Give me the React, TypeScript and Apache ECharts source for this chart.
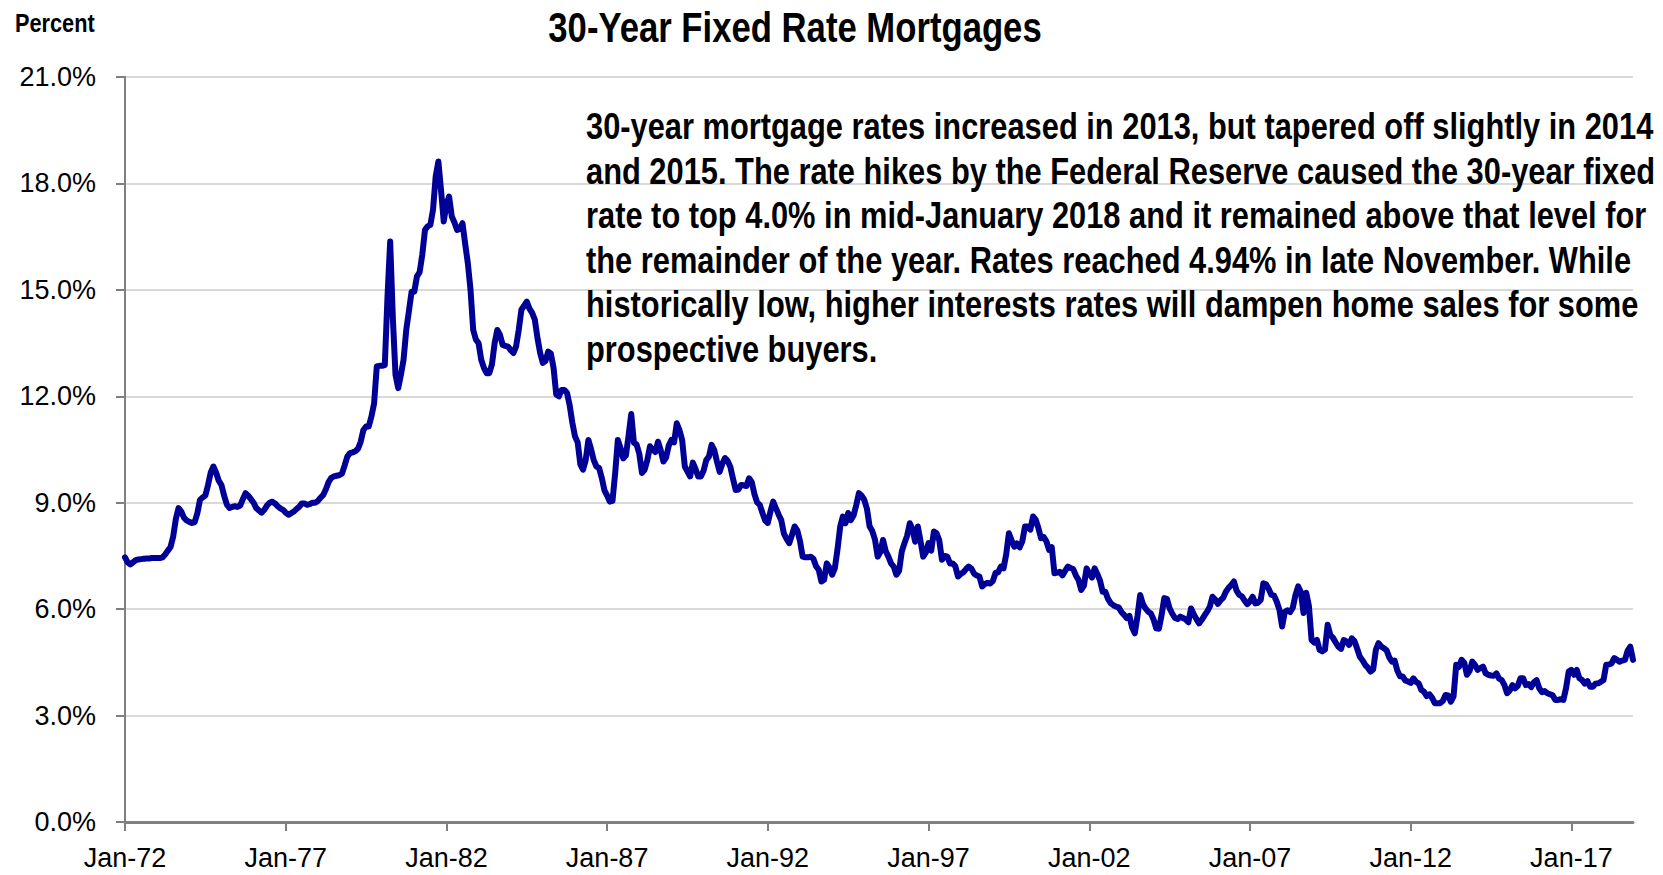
import React, { useEffect, useRef } from "react";
import * as echarts from "echarts";

const SANS = "'Liberation Sans', Arial, sans-serif";
const NARROW_SCALE = 0.82;

const monthNames = ["Jan", "Feb", "Mar", "Apr", "May", "Jun", "Jul", "Aug", "Sep", "Oct", "Nov", "Dec"];
const firstYear = 1972;
const lastYear = 2018;

const chartTitle = "30-Year Fixed Rate Mortgages";
const unitLabel = "Percent";
const noteLines = [
  "30-year mortgage rates increased in 2013, but tapered off slightly in 2014",
  "and 2015. The rate hikes by the Federal Reserve caused the 30-year fixed",
  "rate to top 4.0% in mid-January 2018 and it remained above that level for",
  "the remainder of the year. Rates reached 4.94% in late November. While",
  "historically low, higher interests rates will dampen home sales for some",
  "prospective buyers.",
];

// Monthly 30-year fixed rates (percent), Jan-72 .. Dec-79
const rates1970s = [
  7.46, 7.32, 7.26, 7.32, 7.38, 7.40, 7.41, 7.42, 7.43, 7.43, 7.44, 7.44,
  7.44, 7.44, 7.46, 7.54, 7.65, 7.75, 8.05, 8.55, 8.85, 8.75, 8.58, 8.50,
  8.46, 8.43, 8.45, 8.70, 9.08, 9.15, 9.20, 9.50, 9.85, 10.02, 9.85, 9.62,
  9.50, 9.20, 8.95, 8.85, 8.88, 8.90, 8.88, 8.92, 9.10, 9.27, 9.20, 9.10,
  9.00, 8.85, 8.78, 8.72, 8.80, 8.92, 9.00, 9.03, 8.98, 8.90, 8.84, 8.80,
  8.72, 8.66, 8.70, 8.75, 8.82, 8.88, 8.98, 8.98, 8.94, 8.96, 9.00, 9.00,
  9.05, 9.14, 9.22, 9.38, 9.58, 9.70, 9.74, 9.76, 9.78, 9.82, 10.05, 10.30,
  10.40, 10.42, 10.45, 10.52, 10.72, 11.05, 11.15, 11.15, 11.43, 11.80, 12.84, 12.86,
];

// Jan-80 .. Dec-89
const rates1980s = [
  12.86, 12.88, 14.80, 16.36, 14.20, 12.60, 12.23, 12.60, 13.03, 13.87, 14.40, 14.95,
  14.95, 15.38, 15.50, 16.00, 16.69, 16.79, 16.83, 17.26, 18.20, 18.62, 17.80, 16.93,
  17.40, 17.63, 17.07, 16.90, 16.69, 16.72, 16.88, 16.30, 15.75, 15.00, 13.87, 13.60,
  13.50, 13.03, 12.80, 12.65, 12.65, 12.90, 13.50, 13.87, 13.73, 13.45, 13.42, 13.40,
  13.30, 13.22, 13.40, 13.87, 14.44, 14.55, 14.67, 14.47, 14.35, 14.16, 13.64, 13.22,
  12.94, 13.00, 13.26, 13.20, 12.80, 12.05, 12.00, 12.18, 12.18, 12.10, 11.75, 11.26,
  10.87, 10.70, 10.08, 9.93, 10.20, 10.77, 10.51, 10.20, 10.02, 9.98, 9.70, 9.35,
  9.20, 9.03, 9.05, 9.83, 10.77, 10.54, 10.25, 10.33, 10.89, 11.50, 10.69, 10.64,
  10.38, 9.84, 9.93, 10.20, 10.59, 10.50, 10.43, 10.72, 10.48, 10.16, 10.27, 10.61,
  10.77, 10.70, 11.24, 11.05, 10.77, 10.02, 9.88, 9.74, 10.13, 9.95, 9.74, 9.74,
];

// Jan-90 .. Dec-99
const rates1990s = [
  9.90, 10.20, 10.30, 10.63, 10.48, 10.16, 9.87, 10.10, 10.26, 10.18, 10.01, 9.67,
  9.36, 9.37, 9.50, 9.49, 9.47, 9.69, 9.58, 9.24, 9.01, 8.94, 8.71, 8.50,
  8.43, 8.76, 9.03, 8.85, 8.67, 8.51, 8.13, 7.98, 7.86, 8.09, 8.33, 8.22,
  7.92, 7.48, 7.46, 7.46, 7.48, 7.42, 7.21, 7.11, 6.78, 6.83, 7.29, 7.17,
  6.97, 7.15, 7.68, 8.32, 8.61, 8.42, 8.71, 8.51, 8.64, 8.93, 9.27, 9.20,
  9.08, 8.83, 8.33, 8.20, 7.96, 7.48, 7.61, 7.95, 7.64, 7.48, 7.29, 7.20,
  6.97, 7.08, 7.62, 7.86, 8.07, 8.42, 8.25, 7.90, 8.33, 7.92, 7.48, 7.60,
  7.86, 7.65, 8.19, 8.14, 7.94, 7.39, 7.50, 7.48, 7.29, 7.29, 7.21, 6.92,
  6.99, 7.04, 7.13, 7.20, 7.14, 7.00, 6.95, 6.92, 6.64, 6.71, 6.74, 6.72,
  6.79, 7.02, 7.04, 7.20, 7.15, 7.55, 8.14, 7.94, 7.76, 7.85, 7.74, 7.91,
];

// Jan-00 .. Dec-09
const rates2000s = [
  8.33, 8.33, 8.24, 8.61, 8.52, 8.29, 8.00, 8.03, 7.91, 7.67, 7.75, 7.01,
  7.03, 7.05, 6.95, 7.08, 7.20, 7.16, 7.13, 6.95, 6.82, 6.54, 6.66, 7.15,
  7.00, 6.89, 7.15, 6.99, 6.81, 6.49, 6.49, 6.29, 6.17, 6.11, 6.07, 6.05,
  5.92, 5.84, 5.75, 5.81, 5.48, 5.32, 5.80, 6.40, 6.15, 6.02, 5.93, 5.88,
  5.71, 5.46, 5.45, 5.83, 6.31, 6.29, 6.02, 5.87, 5.75, 5.72, 5.79, 5.75,
  5.71, 5.63, 6.02, 5.86, 5.72, 5.60, 5.70, 5.82, 5.93, 6.07, 6.35, 6.27,
  6.15, 6.25, 6.32, 6.49, 6.60, 6.68, 6.78, 6.52, 6.40, 6.36, 6.24, 6.14,
  6.22, 6.35, 6.16, 6.18, 6.26, 6.73, 6.70, 6.57, 6.40, 6.38, 6.21, 5.98,
  5.51, 5.92, 5.97, 5.92, 6.04, 6.40, 6.64, 6.48, 5.89, 6.46, 6.09, 5.13,
  5.06, 5.13, 4.85, 4.81, 4.86, 5.56, 5.27, 5.19, 5.06, 4.94, 4.88, 5.13,
];

// Jan-10 .. Dec-18
const rates2010s = [
  5.09, 4.99, 5.18, 5.10, 4.89, 4.66, 4.56, 4.43, 4.35, 4.24, 4.30, 4.85,
  5.04, 4.95, 4.90, 4.84, 4.64, 4.52, 4.55, 4.27, 4.11, 4.10, 3.99, 3.96,
  3.92, 4.05, 3.95, 3.91, 3.72, 3.67, 3.55, 3.60, 3.50, 3.35, 3.35, 3.35,
  3.41, 3.58, 3.57, 3.39, 3.54, 4.43, 4.37, 4.57, 4.49, 4.15, 4.26, 4.52,
  4.43, 4.29, 4.34, 4.38, 4.19, 4.15, 4.13, 4.12, 4.19, 4.04, 4.00, 3.86,
  3.63, 3.71, 3.86, 3.77, 3.84, 4.05, 4.05, 3.86, 3.89, 3.80, 3.94, 4.00,
  3.77, 3.66, 3.69, 3.63, 3.60, 3.57, 3.44, 3.44, 3.46, 3.44, 3.77, 4.24,
  4.29, 4.15, 4.29, 4.05, 4.00, 3.90, 3.97, 3.81, 3.81, 3.90, 3.91, 3.95,
  4.00, 4.43, 4.44, 4.47, 4.62, 4.57, 4.52, 4.55, 4.57, 4.83, 4.94, 4.57,
];

const rates = [...rates1970s, ...rates1980s, ...rates1990s, ...rates2000s, ...rates2010s];

const categories: string[] = [];
for (let y = firstYear; y <= lastYear; y++) {
  for (const m of monthNames) categories.push(`${m}-${String(y % 100).padStart(2, "0")}`);
}

const tickEvery = 60;

export default function App() {
  const ref = useRef<HTMLDivElement>(null);
  useEffect(() => {
    document.body.style.margin = "0";
    const chart = echarts.init(ref.current!, null, { renderer: "svg" });
    const showTick = (i: number) => i % tickEvery === 0;
    chart.setOption({
      animation: false,
      backgroundColor: "#ffffff",
      grid: { left: 125, right: 30, top: 77, bottom: 53, containLabel: false },
      xAxis: {
        type: "category",
        data: categories,
        boundaryGap: false,
        axisLine: { show: true, lineStyle: { color: "#808080", width: 3 } },
        axisTick: { show: true, interval: showTick, length: 9, lineStyle: { color: "#808080", width: 2 } },
        axisLabel: {
          interval: showTick,
          color: "#000",
          fontSize: 27,
          fontFamily: SANS,
          margin: 22,
        },
        splitLine: { show: false },
      },
      yAxis: {
        type: "value",
        min: 0,
        max: 21,
        interval: 3,
        axisLine: { show: true, lineStyle: { color: "#808080", width: 2 } },
        axisTick: { show: true, length: 9, lineStyle: { color: "#808080", width: 2 } },
        axisLabel: {
          color: "#000",
          fontSize: 27,
          fontFamily: SANS,
          margin: 29,
          formatter: (v: number) => v.toFixed(1) + "%",
        },
        splitLine: { show: true, lineStyle: { color: "#d9d9d9", width: 2 } },
      },
      series: [
        {
          type: "line",
          data: rates,
          showSymbol: false,
          symbol: "none",
          lineStyle: { color: "#000096", width: 6, join: "round", cap: "round" },
          z: 3,
        },
      ],
      graphic: [
        {
          type: "text",
          x: 795,
          y: 27,
          scaleX: NARROW_SCALE,
          style: {
            text: chartTitle,
            fill: "#000",
            fontSize: 42.3,
            fontWeight: "bold",
            fontFamily: SANS,
            align: "center",
            verticalAlign: "middle",
          },
        },
        {
          type: "text",
          x: 15,
          y: 23,
          scaleX: NARROW_SCALE,
          style: {
            text: unitLabel,
            fill: "#000",
            fontSize: 26.5,
            fontWeight: "bold",
            fontFamily: SANS,
            align: "left",
            verticalAlign: "middle",
          },
        },
        {
          type: "text",
          x: 586,
          y: 104,
          z: 10,
          scaleX: NARROW_SCALE,
          style: {
            text: noteLines.join("\n"),
            fill: "#000",
            fontSize: 37.6,
            fontWeight: "bold",
            fontFamily: SANS,
            lineHeight: 44.5,
            align: "left",
            verticalAlign: "top",
          },
        },
      ],
    });
    return () => chart.dispose();
  }, []);
  return <div ref={ref} style={{ width: 1663, height: 875 }} />;
}
